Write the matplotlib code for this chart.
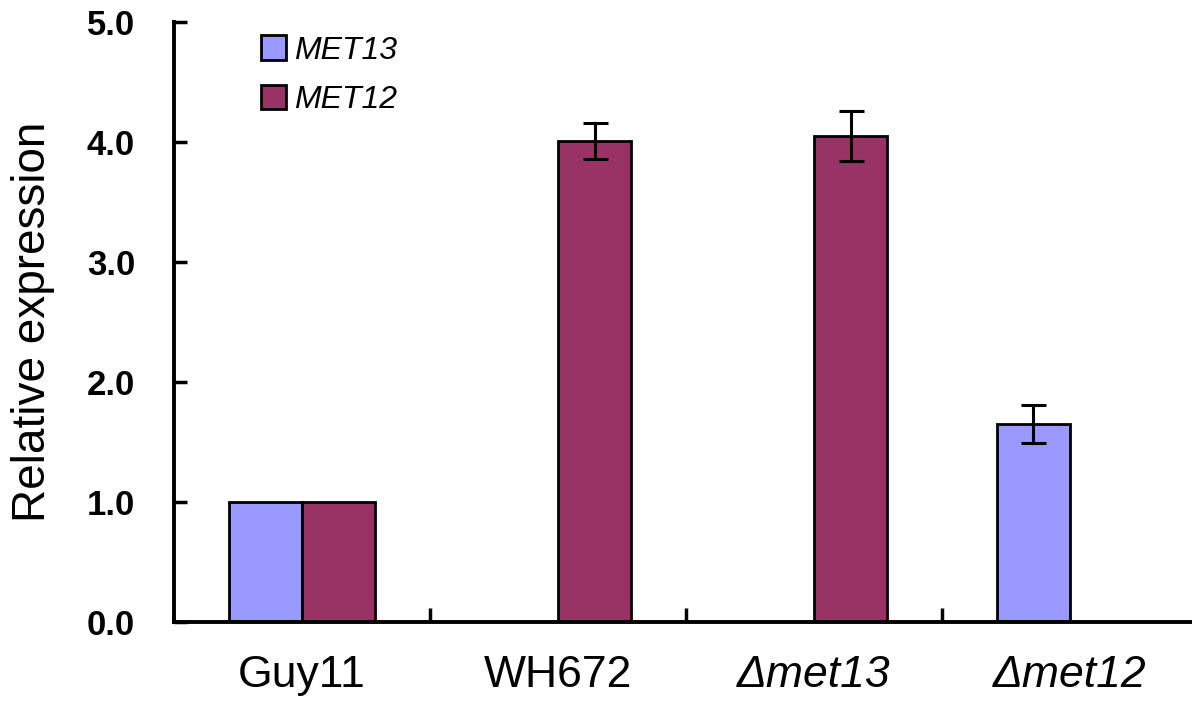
import numpy as np
import matplotlib
matplotlib.use("Agg")
import matplotlib.pyplot as plt

# data (nan = no bar)
strains = ["Guy11", "WH672", "Δmet13", "Δmet12"]
italic_label = [False, False, True, True]
met13 = [1.0, np.nan, np.nan, 1.65]
met13_err = [np.nan, np.nan, np.nan, 0.16]
met12 = [1.0, 4.01, 4.05, np.nan]
met12_err = [np.nan, 0.15, 0.21, np.nan]

plt.rcParams['font.family'] = ['Liberation Sans', 'DejaVu Sans']

fig = plt.figure(figsize=(11.92, 7.03), dpi=100)
ax = fig.add_axes([174 / 1192, 81 / 703, 1024 / 1192, 600 / 703])

x = np.arange(len(strains))
w = 0.287
ax.bar(x - w / 2, met13, w, color="#9999FF", edgecolor="black", linewidth=2, label="MET13", zorder=2)
ax.bar(x + w / 2, met12, w, color="#993366", edgecolor="black", linewidth=2, label="MET12", zorder=2)
ax.errorbar(x - w / 2, met13, yerr=met13_err, fmt="none", ecolor="black", elinewidth=2.2, capsize=9, capthick=2.2, zorder=3)
ax.errorbar(x + w / 2, met12, yerr=met12_err, fmt="none", ecolor="black", elinewidth=2.2, capsize=9, capthick=2.2, zorder=3)

ax.set_xlim(-0.5, 3.5)
ax.set_ylim(0, 5)
ax.set_yticks([0, 1, 2, 3, 4, 5])
ax.set_yticklabels(["0.0", "1.0", "2.0", "3.0", "4.0", "5.0"], fontsize=25, fontweight="bold")
ax.tick_params(axis="y", direction="in", length=9, width=2.5, pad=28)

ax.set_xticks(x)
ax.set_xticklabels(strains, fontsize=32)
for lab, it in zip(ax.get_xticklabels(), italic_label):
    if it:
        lab.set_style("italic")
ax.tick_params(axis="x", which="major", length=0, pad=24)
ax.set_xticks([0.5, 1.5, 2.5], minor=True)
ax.tick_params(axis="x", which="minor", direction="in", length=10, width=2.5)

ax.set_ylabel("Relative expression", fontsize=33, labelpad=23)

for s in ["top", "right"]:
    ax.spines[s].set_visible(False)
for s in ["left", "bottom"]:
    ax.spines[s].set_linewidth(2.8)

leg = ax.legend(loc="upper left", bbox_to_anchor=(0.063, 1.015), frameon=False,
                prop={"size": 23, "style": "italic"}, handlelength=0.8, handleheight=0.8,
                handletextpad=0.25, labelspacing=0.6, borderpad=0.2)

fig.savefig("out.png", dpi=100)
